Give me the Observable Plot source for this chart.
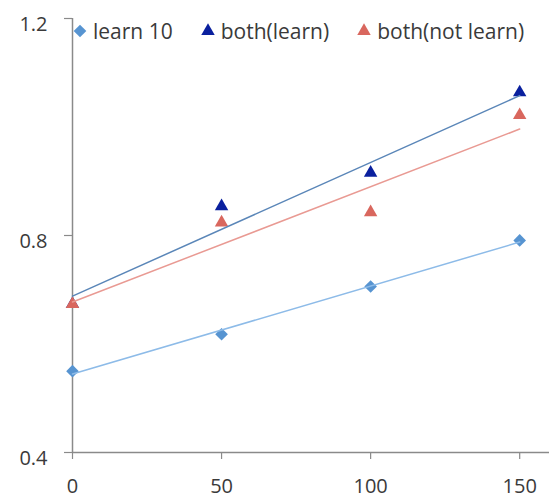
<!DOCTYPE html>
<html>
<head>
<meta charset="utf-8">
<script src="https://cdn.jsdelivr.net/npm/d3@7"></script>
<script src="https://cdn.jsdelivr.net/npm/@observablehq/plot@0.6"></script>
<style>
  body { margin: 0; background: #fff; font-family: "Open Sans", sans-serif; }
  #chart { position: relative; width: 560px; height: 500px; }
  #legend { position: absolute; left: 73px; top: 21px; z-index: 2; display: flex; align-items: center;
            font-size: 21px; line-height: 20px; color: #3a3a3a; white-space: nowrap; }
  .item { display: flex; align-items: center; margin-right: 28px; }
  .item svg { margin-right: 6px; overflow: visible; }
</style>
</head>
<body>
<div id="chart"><div id="legend"></div></div>
<script>
// Measurement points on the x axis
const doses = [0, 50, 100, 150];

// Series values
const learn10 = [0.55, 0.618, 0.706, 0.791];
const bothLearn = [0.67, 0.85, 0.912, 1.06];
const bothNotLearn = [0.67, 0.82, 0.839, 1.018];

// Labels and ticks
const seriesNames = ["learn 10", "both(learn)", "both(not learn)"];
const xTicks = [0, 50, 100, 150];
const yTicks = [0.4, 0.8, 1.2];

// Styling per series
const series = [
  {name: seriesNames[0], values: learn10, symbol: "diamond2", r: 5.7, fill: "#5794d1", trend: "#8dbbe8", dy: 0},
  {name: seriesNames[1], values: bothLearn, symbol: "triangle", r: 5.0, fill: "#0a209e", trend: "#5a86b8", dy: -2},
  {name: seriesNames[2], values: bothNotLearn, symbol: "triangle", r: 5.0, fill: "#d9675e", trend: "#e99a93", dy: -2}
];

const rowsOf = (s) => doses.map((x, i) => ({x, y: s.values[i], name: s.name}));

const axisGray = "#8a8a8a";
const textColor = "#3a3a3a";

const dotMarks = series.map((s) =>
  Plot.dot(rowsOf(s), {x: "x", y: "y", symbol: s.symbol, r: s.r, fill: s.fill, stroke: "none", dy: s.dy})
);
const trendMarks = series.map((s) =>
  Plot.linearRegressionY(rowsOf(s), {x: "x", y: "y", stroke: s.trend, strokeWidth: 1.5, ci: 0})
);

const chart = Plot.plot({
  width: 560,
  height: 500,
  marginLeft: 72,
  marginRight: 11,
  marginTop: 18,
  marginBottom: 48,
  style: {fontFamily: "Open Sans", fontSize: "20px", color: textColor, background: "#fff"},
  x: {domain: [0, 160]},
  y: {domain: [0.4, 1.2]},
  marks: [
    // y axis: tick lines and labels
    Plot.axisY({ticks: yTicks, tickSize: 8, stroke: axisGray, strokeWidth: 1.2, fill: "none", label: null}),
    Plot.axisY({ticks: yTicks, tickSize: 8, tickPadding: 17, stroke: "none", fill: textColor,
                tickFormat: (d) => d.toFixed(1), dy: 6, label: null}),
    // x axis
    Plot.axisX({ticks: xTicks, tickSize: 7, tickPadding: 19, stroke: axisGray, strokeWidth: 1.2,
                fill: textColor, label: null}),
    // axis lines
    Plot.ruleY([0.4], {stroke: axisGray, strokeWidth: 1.5}),
    Plot.ruleX([0], {stroke: axisGray, strokeWidth: 1.5}),
    ...dotMarks,
    ...trendMarks
  ]
});

document.getElementById("chart").appendChild(chart);

// Legend built from the same series definitions
const legend = d3.select("#legend");
for (const s of series) {
  const item = legend.append("div").attr("class", "item");
  const size = Math.PI * s.r * s.r;
  const sym = s.symbol === "diamond2" ? d3.symbolDiamond2 : d3.symbolTriangle;
  const svg = item.append("svg").attr("width", 14).attr("height", 14);
  svg.append("path")
    .attr("transform", `translate(7,${7 + (s.dy || 0) + (s.symbol === "triangle" ? 2 : 0)})`)
    .attr("d", d3.symbol(sym, size)())
    .attr("fill", s.fill);
  item.append("span").text(s.name);
}
</script>
</body>
</html>
